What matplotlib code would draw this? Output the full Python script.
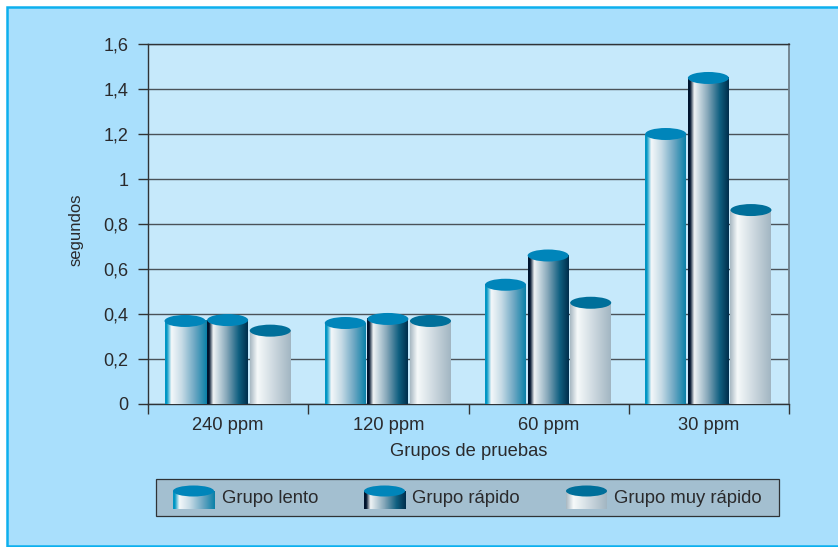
import numpy as np
import matplotlib
matplotlib.use('Agg')
import matplotlib.pyplot as plt
from matplotlib.colors import LinearSegmentedColormap
from matplotlib.patches import Ellipse, Rectangle

plt.rcParams['font.family'] = ['Liberation Sans', 'DejaVu Sans']

grupos = ['240 ppm', '120 ppm', '60 ppm', '30 ppm']
series = ['Grupo lento', 'Grupo rápido', 'Grupo muy rápido']
lento = [0.369, 0.36, 0.53, 1.20]
rapido = [0.373, 0.378, 0.66, 1.449]
muy_rapido = [0.326, 0.369, 0.45, 0.862]
yticks = [0, 0.2, 0.4, 0.6, 0.8, 1, 1.2, 1.4, 1.6]
yticklabels = ['0', '0,2', '0,4', '0,6', '0,8', '1', '1,2', '1,4', '1,6']

W, H = 838, 547
TEXT = '#2a2a2c'

# degradados de los cilindros
cmaps = [
    LinearSegmentedColormap.from_list('lento', [(0, '#0096c4'), (0.04, '#0096c4'), (0.15, '#f4f8fa'),
                                                (0.4, '#c6dbe6'), (0.72, '#6aa6c2'), (1, '#0a80a8')]),
    LinearSegmentedColormap.from_list('rapido', [(0, '#00142e'), (0.05, '#00142e'), (0.15, '#f0f4f6'),
                                                 (0.5, '#7fa3b6'), (0.78, '#0f5f80'), (1, '#002e4c')]),
    LinearSegmentedColormap.from_list('muy', [(0, '#a8b8c2'), (0.18, '#f6f9fa'), (0.5, '#d5dfe5'),
                                              (1, '#a2b6c2')]),
]
tapas = ['#0085ba', '#0085ba', '#006f9a']
grad = np.linspace(0, 1, 128).reshape(1, -1)

fig = plt.figure(figsize=(W / 100, H / 100), dpi=100, facecolor='white')

# fondo y recuadro, en pixeles
bg = fig.add_axes([0, 0, 1, 1])
bg.set_xlim(0, W)
bg.set_ylim(H, 0)
bg.axis('off')
bg.add_patch(Rectangle((7, 7), W + 10, H - 14 + 6, fc='#a9dffc', ec='#0db0ee', lw=1.8))

ax = fig.add_axes([148 / W, 1 - 404 / H, (789 - 148) / W, (404 - 44) / H], facecolor='#c6e9fb')
ax.set_xlim(-0.5, 3.5)
ax.set_ylim(0, 1.6)

x = np.arange(len(grupos)) - 0.5 / 160.25
ancho = 41 / 160.25
paso = 42.6 / 160.25
tapa_h = 12 / 225
for i, valores in enumerate([lento, rapido, muy_rapido]):
    barras = ax.bar(x + (i - 1) * paso, valores, ancho, color='none', zorder=3)
    for b in barras:
        x0, h = b.get_x(), b.get_height()
        ax.imshow(grad, cmap=cmaps[i], extent=(x0, x0 + ancho, 0, h), aspect='auto', zorder=3)
        ax.add_patch(Ellipse((x0 + ancho / 2, h), ancho, tapa_h, fc=tapas[i], ec='none', zorder=4))
ax.set_xlim(-0.5, 3.5)
ax.set_ylim(0, 1.6)

ax.set_yticks(yticks)
ax.set_yticklabels(yticklabels, fontsize=13, color=TEXT)
ax.set_xticks(np.arange(len(grupos)))
ax.set_xticklabels(grupos, fontsize=13.2, color=TEXT)
ax.set_xticks(np.arange(-0.5, 4, 1), minor=True)
ax.tick_params(axis='x', which='major', length=0, pad=9)
ax.tick_params(axis='x', which='minor', length=7, width=1, color='#333333')
ax.tick_params(axis='y', length=7, width=1, color='#333333', pad=7)
ax.yaxis.grid(True, color='#4a5258', lw=1.0, zorder=1)
ax.set_axisbelow(True)
for s in ['top', 'left', 'bottom']:
    ax.spines[s].set_color('#2f3336')
    ax.spines[s].set_linewidth(1.0)
ax.spines['right'].set_color('#6f7f8a')
ax.spines['right'].set_linewidth(1.3)
ax.set_xlabel('Grupos de pruebas', fontsize=13.2, color=TEXT, labelpad=7)
ax.set_ylabel('segundos', fontsize=12, color=TEXT, labelpad=14, y=0.485)

# leyenda, en pixeles
ley = fig.add_axes([0, 0, 1, 1], facecolor='none')
ley.set_xlim(0, W)
ley.set_ylim(H, 0)
ley.axis('off')
ley.add_patch(Rectangle((156, 478.5), 623, 37, fc='#a3bfd0', ec='#2f3336', lw=0.9))
for i, (nombre, sx, tx) in enumerate(zip(series, [173, 364, 566], [222, 412, 614])):
    ley.imshow(grad, cmap=cmaps[i], extent=(sx, sx + 41, 509, 491), aspect='auto', zorder=3)
    ley.add_patch(Ellipse((sx + 20.5, 491), 41, 11, fc=tapas[i], ec='none', zorder=4))
    ley.text(tx, 498.5, nombre, fontsize=13.3, color=TEXT, va='center', ha='left')
ley.set_xlim(0, W)
ley.set_ylim(H, 0)

fig.savefig('out.png', dpi=100, facecolor='white')
